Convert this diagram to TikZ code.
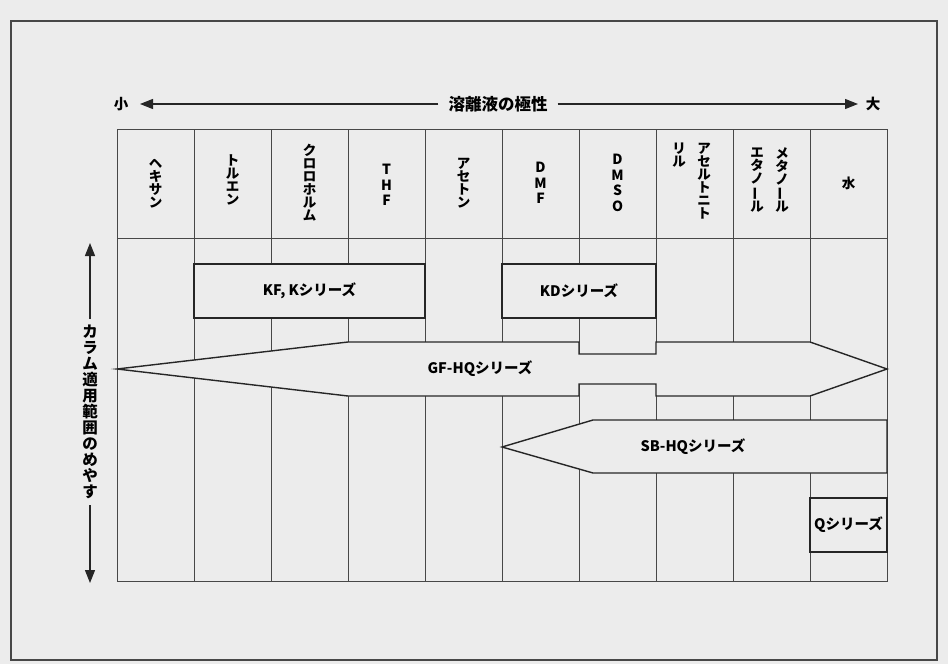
\documentclass[tikz,border=0pt]{standalone}
\usepackage{fontspec}
\usepackage{graphicx}
\newfontfamily\jp{Noto Sans CJK JP}
\usetikzlibrary{arrows.meta}
\definecolor{paper}{RGB}{236,236,236}
\definecolor{ink}{RGB}{38,38,38}
% vertical long vowel mark
\newcommand{\cho}{\rotatebox[origin=c]{90}{ー}}

\begin{document}
\begin{tikzpicture}[x=1pt,y=-1pt]
	\tikzstyle{cell}=[draw=ink!85,line width=0.8pt]
	\tikzstyle{band}=[draw=ink,line width=1.4pt,fill=paper,line join=miter]
	\tikzstyle{tate}=[align=center,inner sep=0pt,font=\jp\bfseries\fontsize{13.5}{13}\selectfont]
	\tikzstyle{latin}=[tate,font=\jp\bfseries\fontsize{14}{15.5}\selectfont]
	\tikzstyle{series}=[font=\jp\bfseries\fontsize{14.5}{15}\selectfont]
	\tikzstyle{axis}=[draw=ink,line width=1.1pt,-{Triangle[length=13pt,width=10pt]}]

	\useasboundingbox[fill=paper] (0,0) rectangle (948,664);
	\draw [ink!85,line width=1.2pt] (11,21) rectangle (937,660);

	% polarity axis
	\node [font=\jp\bfseries\fontsize{16.5}{16}\selectfont,inner sep=10pt] (pol) at (498,104) {溶離液の極性};
	\node [font=\jp\bfseries\fontsize{14.5}{14}\selectfont,inner sep=0pt] (small) at (121,104) {小};
	\node [font=\jp\bfseries\fontsize{14.5}{14}\selectfont,inner sep=0pt] (large) at (873,104) {大};
	\coordinate (ltip) at (140,104);
	\coordinate (rtip) at (858,104);
	\draw [axis] (pol.west) -- (ltip);
	\draw [axis] (pol.east) -- (rtip);

	% grid
	\draw [cell] (117,129) rectangle (887,581);
	\draw [cell] (117,238) -- (887,238);
	\draw [cell] (194,129) -- (194,581);
	\draw [cell] (271,129) -- (271,581);
	\draw [cell] (348,129) -- (348,581);
	\draw [cell] (425,129) -- (425,581);
	\draw [cell] (502,129) -- (502,581);
	\draw [cell] (579,129) -- (579,581);
	\draw [cell] (656,129) -- (656,581);
	\draw [cell] (733,129) -- (733,581);
	\draw [cell] (810,129) -- (810,581);

	% solvents
	\node [tate] (hex) at (155.5,184) {ヘ\\キ\\サ\\ン};
	\node [tate] (tol) at (232.5,180) {ト\\ル\\エ\\ン};
	\node [tate] (chl) at (309.5,183) {ク\\ロ\\ロ\\ホ\\ル\\ム};
	\node [latin] (thf) at (386.5,185) {T\\H\\F};
	\node [tate] (ace) at (463.5,183) {ア\\セ\\ト\\ン};
	\node [latin] (dmf) at (540.5,183) {D\\M\\F};
	\node [latin] (dmso) at (617.5,183) {D\\M\\S\\O};
	\node [tate,anchor=north] (acn1) at (704,143) {ア\\セ\\ル\\ト\\ニ\\ト};
	\node [tate,anchor=north] (acn2) at (679,143) {リ\\ル};
	\node [tate,anchor=north] (meoh) at (782,147) {メ\\タ\\ノ\\\cho\\ル};
	\node [tate,anchor=north] (etoh) at (757,148) {エ\\タ\\ノ\\\cho\\ル};
	\node [tate] (water) at (848.5,183) {水};

	% column range axis
	\node [tate,font=\jp\bfseries\fontsize{15.5}{16}\selectfont,inner sep=6pt] (range) at (90,412)
		{カ\\ラ\\ム\\適\\用\\範\\囲\\の\\め\\や\\す};
	\coordinate (utip) at (90,243);
	\coordinate (dtip) at (90,583);
	\draw [axis] (range.north) -- (utip);
	\draw [axis] (range.south) -- (dtip);

	% series
	\draw [band] (194,264) rectangle (425,318);
	\node [series] (kf) at (309.5,291) {KF, Kシリーズ};
	\draw [band] (502,264) rectangle (656,318);
	\node [series] (kd) at (579,291) {KDシリーズ};

	\draw [band] (117,369) -- (348,342) -- (579,342) -- (579,354) -- (656,354) -- (656,342)
		-- (810,342) -- (887,369) -- (810,396) -- (656,396) -- (656,384) -- (579,384)
		-- (579,396) -- (348,396) -- cycle;
	\node [series] (gf) at (480,369) {GF-HQシリーズ};

	\draw [band] (502,447) -- (593,420) -- (887,420) -- (887,473) -- (593,473) -- cycle;
	\node [series] (sb) at (693,447) {SB-HQシリーズ};

	\draw [band] (810,498) rectangle (887,552);
	\node [series] (q) at (848.5,525) {Qシリーズ};

\end{tikzpicture}
\end{document}
